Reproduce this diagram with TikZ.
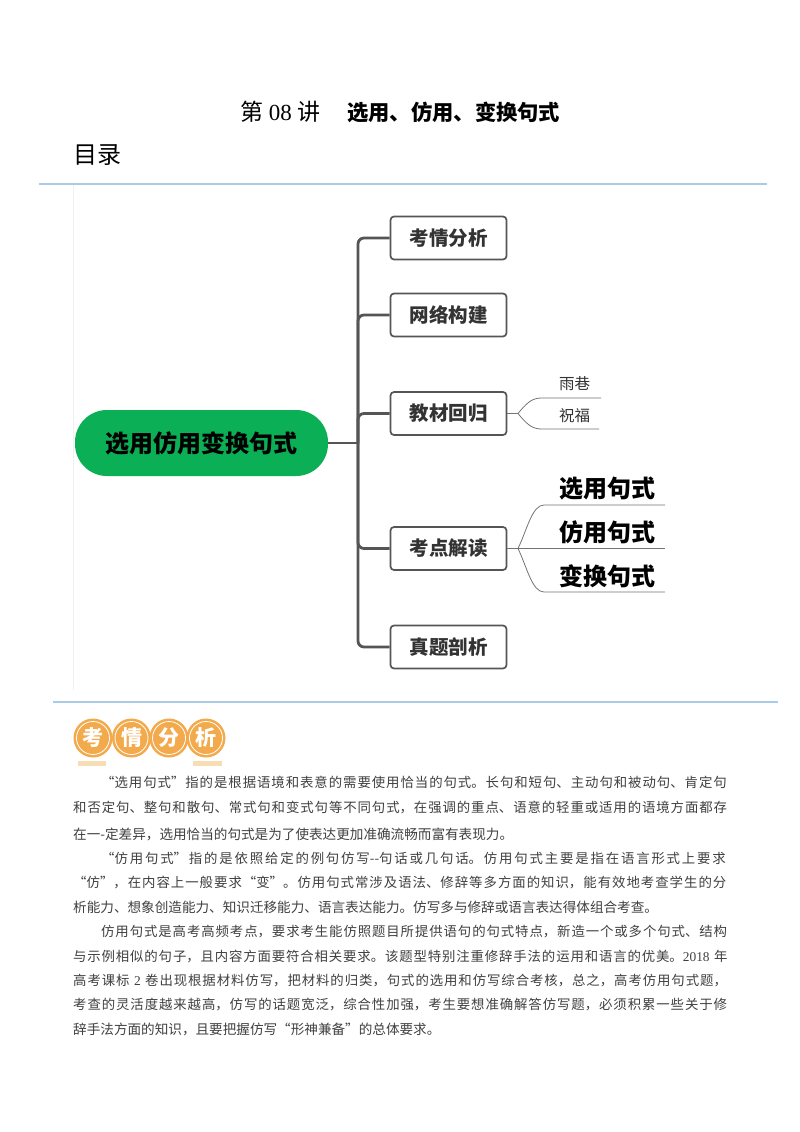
\documentclass[tikz,border=0pt]{standalone}
\usepackage{fontspec}
\setmainfont{Liberation Serif}
\newfontfamily\cjk{Noto Sans CJK SC}
\newfontfamily\ser{Liberation Serif}
\XeTeXlinebreaklocale "zh"
\XeTeXlinebreakskip=0pt plus 3pt minus 1pt
\newcommand{\J}[1]{{\parfillskip=0pt\relax #1\par}}
\definecolor{rulecol}{HTML}{A9CBEA}
\definecolor{dark}{HTML}{555555}
\definecolor{boxtext}{HTML}{333333}
\definecolor{pill}{HTML}{0BAF55}
\definecolor{badge}{HTML}{F2AA4C}
\definecolor{barcol}{HTML}{F6DDB4}
\tikzset{
  rulel/.style={draw=rulecol,line width=1.6pt},
  topic/.style={draw=dark,line width=1.7pt,rounded corners=3.5pt,fill=white,minimum width=116pt,minimum height=43pt,inner sep=0pt,text=boxtext,font=\cjk\fontsize{19.5}{22}\selectfont\bfseries},
  trunkl/.style={draw=dark,line width=2.8pt,rounded corners=6pt},
  thin/.style={draw=black!55,line width=0.8pt},
  smallleaf/.style={inner sep=0pt,text=boxtext,font=\cjk\fontsize{15.5}{17}\selectfont},
  bigleaf/.style={inner sep=0pt,text=black,font=\cjk\fontsize{24}{27}\selectfont\bfseries},
  disc/.style={circle,fill=badge,minimum size=39pt,inner sep=0pt,text=white,font=\cjk\fontsize{21}{24}\selectfont\bfseries},
  ring/.style={draw=white,line width=0.8pt},
  bodyline/.style={anchor=west,inner sep=0pt,text=black!75,font=\cjk\fontsize{13.4}{16}\selectfont,text width=#1},
  endline/.style={anchor=west,inner sep=0pt,text=black!75,font=\cjk\fontsize{13.6}{16}\selectfont},
}
\begin{document}
\begin{tikzpicture}[x=1pt,y=-1pt]
\useasboundingbox (0,0) rectangle (800,1132);
\fill[white] (0,0) rectangle (800,1132);
% header
\node[anchor=west,inner sep=0pt,font=\fontsize{23}{26}\selectfont] (ttl) at (240,112) {{\cjk 第} 08 {\cjk 讲}};
\node[anchor=west,inner sep=0pt,font=\cjk\fontsize{21.3}{26}\selectfont\bfseries] (ttr) at (347,112) {选用、仿用、变换句式};
\node[anchor=west,inner sep=0pt,font=\cjk\fontsize{24}{27}\selectfont] (mulu) at (73,155) {目录};
\coordinate (r1a) at (39,183.7); \coordinate (r1b) at (767,183.7);
\coordinate (r2a) at (53,702); \coordinate (r2b) at (778,702);
\coordinate (fa) at (73,185); \coordinate (fb) at (73,690);
\draw[black!6,line width=0.8pt] (fa) -- (fb);
\draw[rulel] (r1a) -- (r1b);
\draw[rulel] (r2a) -- (r2b);
% mind map
\node[fill=pill,rounded corners=32pt,minimum width=253pt,minimum height=66pt,inner sep=0pt,font=\cjk\fontsize{24}{27}\selectfont\bfseries] (root) at (201.5,443) {选用仿用变换句式};
\node[topic] (a) at (448.5,238) {考情分析};
\node[topic] (b) at (448.5,315) {网络构建};
\node[topic] (c) at (448.5,413.5) {教材回归};
\node[topic] (d) at (448.5,548.5) {考点解读};
\node[topic] (e) at (448.5,647) {真题剖析};
\coordinate (hub) at (358,443);
\draw[trunkl] (root.east) -- (hub);
\draw[trunkl] (hub) |- (a.west);
\draw[trunkl] (hub) |- (b.west);
\draw[trunkl] (hub) |- (c.west);
\draw[trunkl] (hub) |- (d.west);
\draw[trunkl] (hub) |- (e.west);
% small leaves
\node[smallleaf] (yx) at (574.5,384) {雨巷};
\node[smallleaf] (zf) at (574.5,416) {祝福};
\coordinate (c0) at (518,413.5);
\coordinate (yxe) at (601,398); \coordinate (zfe) at (599,429);
\draw[thin] (c.east) -- (c0);
\draw[thin] (c0) .. controls (525,405) and (531,398) .. (541,398) -- (yxe);
\draw[thin] (c0) .. controls (525,422) and (531,429) .. (541,429) -- (zfe);
% big leaves
\node[bigleaf] (xy) at (607,489) {选用句式};
\node[bigleaf] (fy) at (607,532) {仿用句式};
\node[bigleaf] (bh) at (607,576) {变换句式};
\coordinate (d0) at (518,548.5);
\coordinate (xye) at (665,505); \coordinate (fye) at (665,548.5); \coordinate (bhe) at (665,592);
\draw[thin] (d.east) -- (fye);
\draw[thin] (d0) .. controls (527,530) and (532,505) .. (544,505) -- (xye);
\draw[thin] (d0) .. controls (527,567) and (532,592) .. (544,592) -- (bhe);
% badge
\node[disc] (b1) at (93,738) {考};
\node[disc] (b2) at (131.5,738) {情};
\node[disc] (b3) at (169,738) {分};
\node[disc] (b4) at (206,738) {析};
\draw[ring] (b1.center) circle (16.5);
\draw[ring] (b2.center) circle (16.5);
\draw[ring] (b3.center) circle (16.5);
\draw[ring] (b4.center) circle (16.5);
\fill[barcol] (78,761) rectangle (106,766);
\fill[barcol] (193,761) rectangle (222,766);
% body
\node[bodyline=634pt] (l1) at (101,782) {\J{“选用句式”指的是根据语境和表意的需要使用恰当的句式。长句和短句、主动句和被动句、肯定句}};
\node[bodyline=662pt] (l2) at (73,808) {\J{和否定句、整句和散句、常式句和变式句等不同句式，在强调的重点、语意的轻重或适用的语境方面都存}};
\node[endline] (l3) at (73,834) {在一-定差异，选用恰当的句式是为了使表达更加准确流畅而富有表现力。};
\node[bodyline=641pt] (l4) at (101,858) {\J{“仿用句式”指的是依照给定的例句仿写--句话或几句话。仿用句式主要是指在语言形式上要求}};
\node[bodyline=662pt] (l5) at (73,883) {\J{“仿”，在内容上一般要求“变”。仿用句式常涉及语法、修辞等多方面的知识，能有效地考查学生的分}};
\node[endline] (l6) at (73,907) {析能力、想象创造能力、知识迁移能力、语言表达能力。仿写多与修辞或语言表达得体组合考查。};
\node[bodyline=634pt] (l7) at (101,932) {\J{仿用句式是高考高频考点，要求考生能仿照题目所提供语句的句式特点，新造一个或多个句式、结构}};
\node[bodyline=662pt] (l8) at (73,957) {\J{与示例相似的句子，且内容方面要符合相关要求。该题型特别注重修辞手法的运用和语言的优美。{\ser 2018} 年}};
\node[bodyline=662pt] (l9) at (73,981) {\J{高考课标 {\ser 2} 卷出现根据材料仿写，把材料的归类，句式的选用和仿写综合考核，总之，高考仿用句式题，}};
\node[bodyline=662pt] (l10) at (73,1005) {\J{考查的灵活度越来越高，仿写的话题宽泛，综合性加强，考生要想准确解答仿写题，必须积累一些关于修}};
\node[endline] (l11) at (73,1029) {辞手法方面的知识，且要把握仿写“形神兼备”的总体要求。};
\end{tikzpicture}
\end{document}
